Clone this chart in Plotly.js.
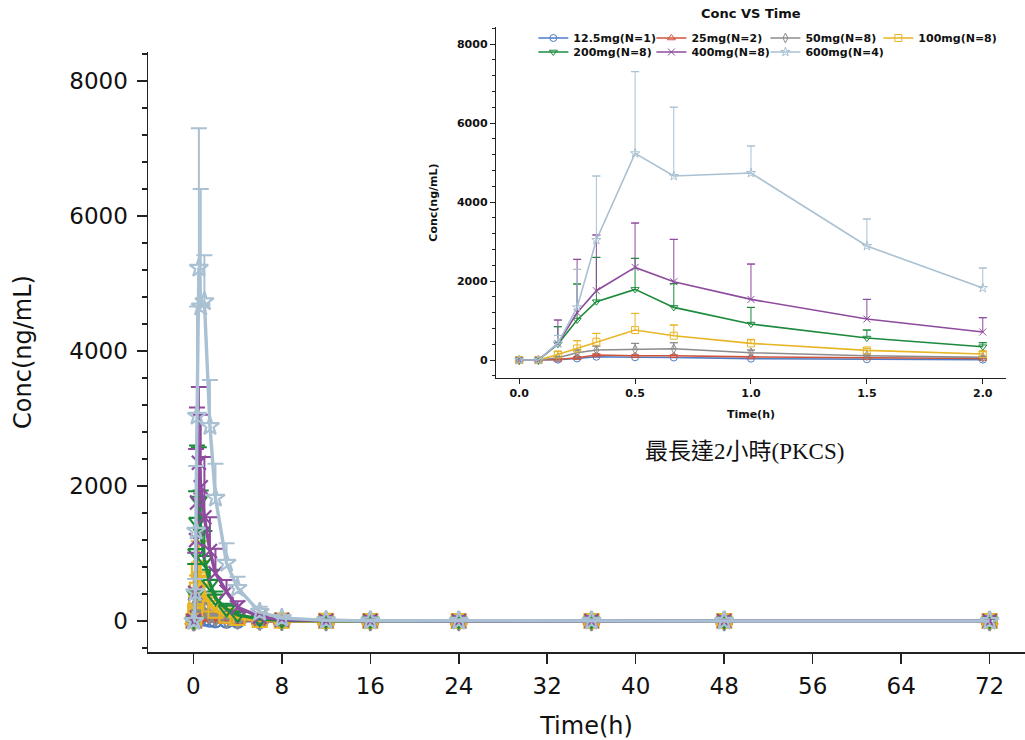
<!DOCTYPE html>
<html>
<head>
<meta charset="utf-8">
<script src="https://cdn.plot.ly/plotly-3.0.1.min.js"></script>
<style>html,body{margin:0;padding:0;background:#fff;}#chart{width:1025px;height:740px;}</style>
</head>
<body>
<div id="chart"></div>
<script>
// ---------- data ----------
const times = [0, 0.083, 0.167, 0.25, 0.333, 0.5, 0.667, 1, 1.5, 2, 3, 4, 6, 8, 12, 16, 24, 36, 48, 72];
const insetCount = 10; // inset shows 0..2 h

const names = ['12.5mg(N=1)', '25mg(N=2)', '50mg(N=8)', '100mg(N=8)', '200mg(N=8)', '400mg(N=8)', '600mg(N=4)'];

const mean12_5 = [0, 0, 10, 40, 84, 70, 65, 35, 20, 10, 5, 3, 1, 0, 0, 0, 0, 0, 0, 0];
const sd12_5   = [null, null, null, null, null, null, null, null, null, null, null, null, null, null, null, null, null, null, null, null];

const mean25 = [0, 0, 15, 60, 127, 110, 110, 80, 60, 40, 25, 15, 5, 2, 0.5, 0, 0, 0, 0, 0];
const sd25   = [0, 0, 10, 20, 25, 15, 15, 10, 10, 8, 5, 3, 1, 1, 0, 0, 0, 0, 0, 0];

const mean50 = [0, 0, 60, 186, 253, 270, 287, 186, 110, 68, 40, 25, 10, 3, 1, 0, 0, 0, 0, 0];
const sd50   = [0, 0, 30, 70, 100, 152, 152, 67, 40, 25, 15, 10, 4, 1, 0, 0, 0, 0, 0, 0];

const mean100 = [0, 0, 143, 295, 464, 759, 616, 422, 245, 152, 80, 45, 15, 5, 1, 0.5, 0, 0, 0, 0];
const sd100   = [0, 0, 70, 194, 211, 422, 270, 101, 51, 59, 40, 25, 8, 3, 1, 0, 0, 0, 0, 0];

const mean200 = [0, 0, 400, 1013, 1477, 1789, 1333, 911, 557, 338, 175, 90, 30, 10, 3, 1, 0.5, 0, 0, 0];
const sd200   = [0, 0, 444, 911, 1122, 785, 600, 422, 202, 101, 80, 45, 15, 5, 2, 1, 0, 0, 0, 0];

const mean400 = [0, 0, 420, 1198, 1755, 2346, 1983, 1536, 1038, 709, 434, 202, 64, 18, 5, 2, 1, 0.5, 0, 0];
const sd400   = [0, 0, 593, 1351, 1410, 1122, 1072, 894, 498, 363, 173, 90, 30, 10, 3, 1, 0, 0, 0, 0];

const mean600 = [0, 0, 423, 1334, 3038, 5232, 4658, 4734, 2886, 1823, 860, 489, 133, 44, 10, 5, 2, 1, 0.5, 0];
const sd600   = [0, 0, 200, 962, 1620, 2068, 1742, 684, 684, 506, 291, 168, 79, 26, 8, 3, 1, 0, 0, 0];

const xTicksMain = [0, 8, 16, 24, 32, 40, 48, 56, 64, 72];
const xTicksInset = [0, 0.5, 1, 1.5, 2];
const yTicks = [0, 2000, 4000, 6000, 8000];

// ---------- style ----------
const colors  = ['#4f7cc4', '#d0533b', '#8c8c8c', '#e8b525', '#1b8a3c', '#8e4b9e', '#a9c1d2'];
const symbols = ['circle-open', 'triangle-up-open', 'diamond-tall-open', 'square-open', 'triangle-down-open', 'x-thin-open', 'star-open'];
const means = [mean12_5, mean25, mean50, mean100, mean200, mean400, mean600];
const sds   = [sd12_5, sd25, sd50, sd100, sd200, sd400, sd600];

const traces = [];

function addSeries(i, n, xa, ya, st, legendName) {
  const t = times.slice(0, n);
  const m = means[i].slice(0, n);
  const s = sds[i].slice(0, n);
  const c = colors[i];
  // vertical error bars (upper only, no caps)
  traces.push({
    x: t, y: m, type: 'scatter', mode: 'markers', xaxis: xa, yaxis: ya,
    marker: {size: 1, opacity: 0}, showlegend: false, hoverinfo: 'skip',
    error_y: {type: 'data', symmetric: false, array: s.map(v => v == null ? 0 : v),
              arrayminus: s.map(() => 0), width: 0, thickness: st.ew, color: c}
  });
  // caps at the top of the bars
  traces.push({
    x: t, y: m.map((v, k) => (s[k] == null || s[k] === 0) ? null : v + s[k]),
    type: 'scatter', mode: 'markers', xaxis: xa, yaxis: ya,
    marker: {size: 1, opacity: 0}, showlegend: false, hoverinfo: 'skip',
    error_y: {type: 'constant', value: 0, width: st.cap, thickness: st.ew, color: c}
  });
  // line + markers
  const tr = {
    x: t, y: m, type: 'scatter', mode: 'lines+markers', xaxis: xa, yaxis: ya, name: names[i],
    line: {color: c, width: st.lw},
    marker: {symbol: symbols[i], size: st.ms, color: c, line: {color: c, width: st.mlw}},
    showlegend: !!legendName
  };
  if (legendName) tr.legend = legendName;
  traces.push(tr);
}

const mainStyle  = {lw: 3.4, ms: 14, mlw: 2.2, ew: 2, cap: 8};
const insetStyle = {lw: 1.6, ms: 7, mlw: 1, ew: 1, cap: 4};

const legendIds = ['legend', 'legend2', 'legend3', 'legend4', 'legend5', 'legend6', 'legend7'];

for (let i = 0; i < 7; i++) addSeries(i, times.length, 'x', 'y', mainStyle, null);
for (let i = 0; i < 7; i++) addSeries(i, insetCount, 'x2', 'y2', insetStyle, legendIds[i]);

const mainFont = {family: 'DejaVu Sans', size: 23, color: '#111'};
const insetFont = {family: 'DejaVu Sans', size: 11, color: '#111', weight: 'bold'};

const legendCommon = {
  orientation: 'h', xanchor: 'left', yanchor: 'middle', bgcolor: 'rgba(0,0,0,0)',
  font: insetFont, itemwidth: 30, itemclick: false, itemdoubleclick: false
};
// legend entry positions (paper fractions): 4 columns, 2 rows
const legendX = [0.4394, 0.5740, 0.7040, 0.8328, 0.4394, 0.5740, 0.7040];
const legendY = [0.9715, 0.9715, 0.9715, 0.9715, 0.9494, 0.9494, 0.9494];

const layout = {
  width: 1025, height: 740,
  margin: {l: 148, r: 0, t: 20, b: 88},
  paper_bgcolor: '#fff', plot_bgcolor: 'rgba(0,0,0,0)',
  showlegend: true,
  xaxis: {
    domain: [0, 1], anchor: 'y', range: [-4.1, 75.2],
    tickvals: xTicksMain, ticks: 'outside', ticklen: 10, tickwidth: 1.5, tickcolor: '#222',
    showline: true, linecolor: '#222', linewidth: 1.5, showgrid: false, zeroline: false,
    tickfont: mainFont, ticklabelstandoff: 3,
    title: {text: 'Time(h)', font: {family: 'DejaVu Sans', size: 24, color: '#111'}, standoff: 22}
  },
  yaxis: {
    domain: [0, 0.9494], anchor: 'x', range: [-459, 8430],
    tickvals: yTicks, ticks: 'outside', ticklen: 10, tickwidth: 1.5, tickcolor: '#222',
    minor: {dtick: 400, tick0: 0, ticks: 'outside', ticklen: 5, tickwidth: 1.2, tickcolor: '#222'},
    showline: true, linecolor: '#222', linewidth: 1.5, showgrid: false, zeroline: false,
    tickfont: mainFont, ticklabelstandoff: 4,
    title: {text: 'Conc(ng/mL)', font: {family: 'DejaVu Sans', size: 24, color: '#111'}, standoff: 31}
  },
  xaxis2: {
    domain: [0.3968, 0.9783], anchor: 'y2', range: [-0.1, 2.1],
    tickvals: xTicksInset, tickformat: '.1f', ticks: 'outside', ticklen: 5, tickwidth: 1, tickcolor: '#222',
    showline: true, linecolor: '#222', linewidth: 1.2, showgrid: false, zeroline: false,
    tickfont: insetFont,
    title: {text: 'Time(h)', font: insetFont, standoff: 10}
  },
  yaxis2: {
    domain: [0.4335, 0.9889], anchor: 'x2', range: [-455, 8430],
    tickvals: yTicks, ticks: 'outside', ticklen: 5, tickwidth: 1, tickcolor: '#222',
    minor: {dtick: 400, tick0: 0, ticks: 'outside', ticklen: 3, tickwidth: 1, tickcolor: '#222'},
    showline: true, linecolor: '#222', linewidth: 1.2, showgrid: false, zeroline: false,
    tickfont: insetFont,
    title: {text: 'Conc(ng/mL)', font: insetFont, standoff: 17}
  },
  annotations: [
    {text: 'Conc VS Time', xref: 'paper', yref: 'paper', x: 0.6876, y: 1.0095,
     xanchor: 'center', yanchor: 'middle', showarrow: false,
     font: {family: 'DejaVu Sans', size: 13, color: '#111', weight: 'bold'}},
    {text: '最長達2小時(PKCS)', xref: 'paper', yref: 'paper', x: 0.6807, y: 0.3165,
     xanchor: 'center', yanchor: 'middle', showarrow: false,
     font: {family: 'Liberation Serif, Noto Sans CJK TC', size: 23, color: '#111'}}
  ]
};
legendIds.forEach((id, i) => {
  layout[id] = Object.assign({}, legendCommon, {x: legendX[i], y: legendY[i]});
});

Plotly.newPlot('chart', traces, layout, {displayModeBar: false, staticPlot: true});
</script>
</body>
</html>
